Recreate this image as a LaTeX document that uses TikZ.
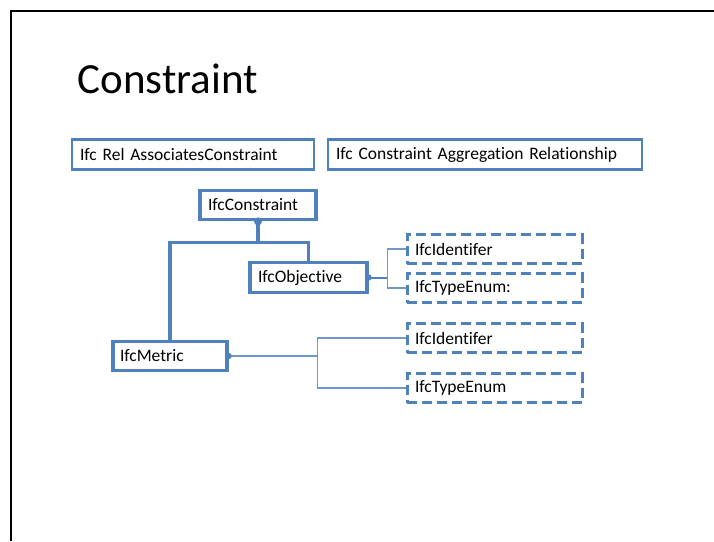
\documentclass[tikz,border=0pt]{standalone}
\usepackage{fontspec}
\setmainfont{Carlito}[RawFeature={-liga;-clig;-dlig;-calt}]
\definecolor{boxblue}{HTML}{4F81BD}
\definecolor{thinblue}{HTML}{7098CB}
\begin{document}
\begin{tikzpicture}[x=1pt,y=-1pt,
  every node/.style={font=\fontsize{17.5}{21}\selectfont, text=black},
  basebox/.style={draw=boxblue, rectangle, inner xsep=8pt, inner ysep=0pt, align=left},
  topbox/.style={basebox, line width=2.5pt, minimum height=30pt},
  classbox/.style={basebox, line width=3.2pt, minimum height=29.5pt},
  attrbox/.style={basebox, line width=3pt, dash pattern=on 10pt off 5pt, minimum height=29pt, text width=159pt},
  thickconn/.style={draw=boxblue, line width=3.2pt},
  midconn/.style={draw=boxblue, line width=2pt},
  thinconn/.style={draw=thinblue, line width=1.2pt},
  dotmark/.style={fill=boxblue}
]
\useasboundingbox (0,0) rectangle (714,541);
\draw[line width=2.3pt, black] (11,541) -- (11,11) -- (714,11);

\node[anchor=base west, font=\fontsize{43}{50}\selectfont] (title) at (74,93) {Constraint};

\node[topbox, text width=226pt] (rel) at (193,154.5) {Ifc Rel AssociatesConstraint};
\node[topbox, text width=298pt] (agg) at (485,154.5) {Ifc Constraint Aggregation Relationship};

\node[classbox, text width=100pt] (con) at (258,205) {IfcConstraint};
\node[classbox, text width=101pt] (obj) at (308.5,277.5) {IfcObjective};
\node[classbox, text width=100pt, inner xsep=7pt] (met) at (170,356) {IfcMetric};

\node[attrbox] (id1) at (494.5,249) {IfcIdentifer};
\node[attrbox] (te1) at (494.5,288) {IfcTypeEnum:};
\node[attrbox] (id2) at (494.5,338) {IfcIdentifer};
\node[attrbox] (te2) at (494.5,388) {IfcTypeEnum};

% hierarchy
\draw[thickconn] (con.south) -- ++(0,21) coordinate (j1);
\draw[thickconn] (met.north) |- (j1) -| (obj.north);
\fill[dotmark] (con.south) circle (4pt);

% objective attributes
\draw[midconn] (obj.east) -- ++(19,0) coordinate (j2);
\draw[thinconn] (id1.west) -| (j2) |- (te1.west);
\fill[dotmark] (obj.east) circle (3.2pt);

% metric attributes
\draw[thinconn] (met.east) -- ++(89,0) coordinate (j3);
\draw[thinconn] (id2.west) -| (j3) |- (te2.west);
\fill[dotmark] (met.east) circle (3.2pt);
\end{tikzpicture}
\end{document}
